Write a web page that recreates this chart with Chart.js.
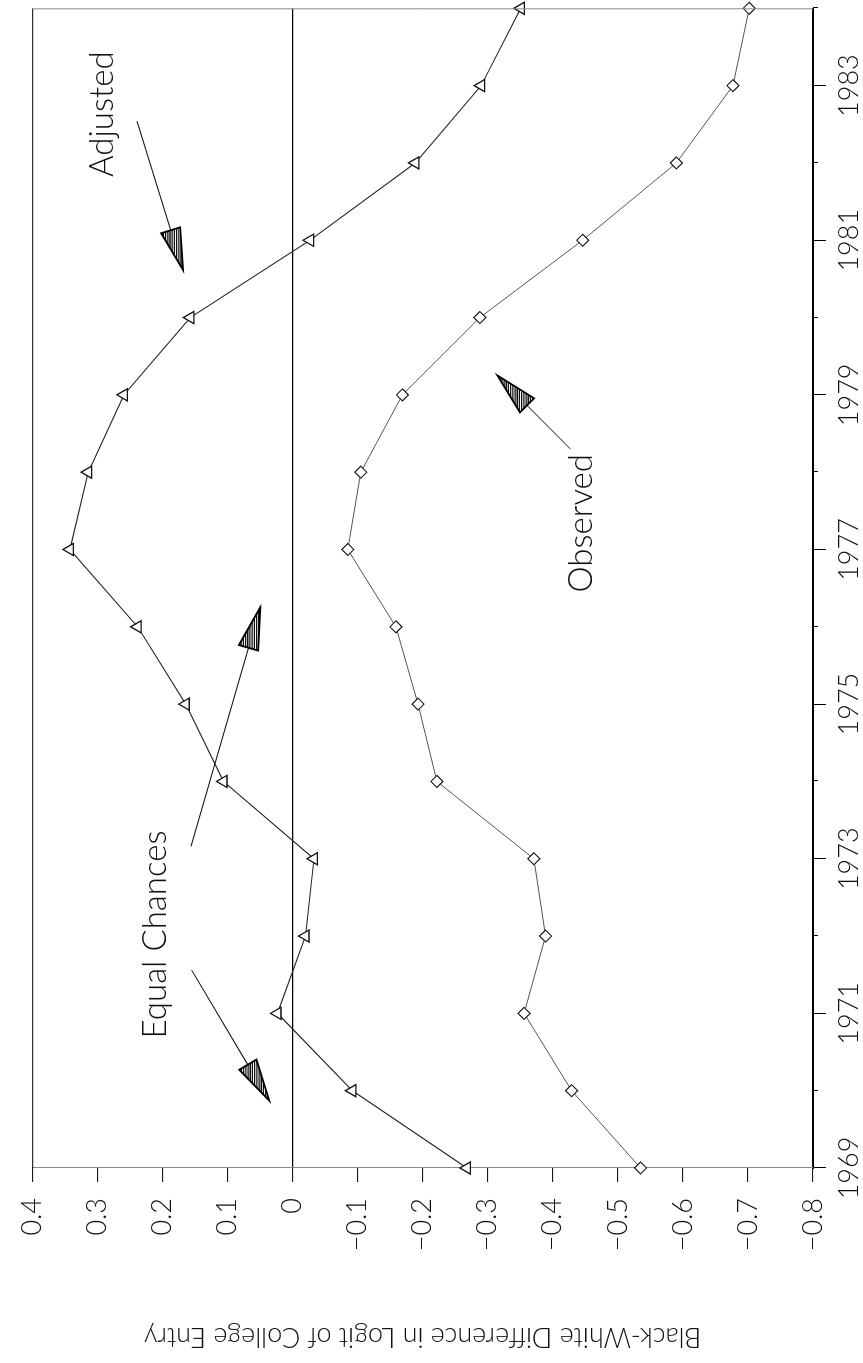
<!DOCTYPE html>
<html>
<head>
<meta charset="utf-8">
<script src="https://cdn.jsdelivr.net/npm/chart.js@4.4.1/dist/chart.umd.min.js"></script>
<style>
  html, body { margin: 0; padding: 0; background: #fff; width: 863px; height: 1363px; overflow: hidden; }
  /* The chart is laid out landscape and turned a quarter-turn counter-clockwise onto the page */
  #frame { position: absolute; left: 0; top: 0; width: 1363px; height: 863px;
           transform-origin: 0 0; transform: translate(0, 1363px) rotate(-90deg); }
  canvas { display: block; }
</style>
</head>
<body>
<div id="frame"><canvas id="chart" width="1363" height="863"></canvas></div>
<script>
// Survey years
const years = [1969, 1970, 1971, 1972, 1973, 1974, 1975, 1976,
               1977, 1978, 1979, 1980, 1981, 1982, 1983, 1984];

// Black-white difference, adjusted for background ("Adjusted")
const adjusted = [-0.268, -0.092, 0.023, -0.020, -0.033, 0.106, 0.164, 0.238,
                  0.342, 0.314, 0.259, 0.157, -0.027, -0.189, -0.290, -0.351];

// Raw black-white difference ("Observed")
const observed = [-0.535, -0.429, -0.356, -0.389, -0.371, -0.222, -0.193, -0.159,
                  -0.085, -0.105, -0.169, -0.288, -0.446, -0.590, -0.677, -0.702];

// Axis ticks
const labeledYears = [1969, 1971, 1973, 1975, 1977, 1979, 1981, 1983];
const valueTicks = [0.4, 0.3, 0.2, 0.1, 0, -0.1, -0.2, -0.3, -0.4, -0.5, -0.6, -0.7, -0.8];
const valueTickLabels = ['0.4', '0.3', '0.2', '0.1', '0', '\u22120.1', '\u22120.2', '\u22120.3',
                         '\u22120.4', '\u22120.5', '\u22120.6', '\u22120.7', '\u22120.8'];

// Series labels and their pointer arrows, in data units [year, value]
const noteTexts = ['Adjusted', 'Observed', 'Equal Chances'];
const notePositions = [[1982.63, 0.292], [1977.34, -0.444], [1972.02, 0.211]];
const arrowTails = [[1982.54, 0.239], [1978.30, -0.427], [1973.16, 0.156], [1971.56, 0.155]];
const arrowTips  = [[1980.61, 0.168], [1979.25, -0.315], [1976.25, 0.0495], [1969.87, 0.0356]];

const FONT = "Lato, 'Liberation Sans', Arial, sans-serif";
const TEXT_WEIGHT = '300';

// Short ticks for the unlabeled years, plus the closing frame lines
const frameAndMinorTicks = {
  id: 'frameAndMinorTicks',
  afterDraw(chart) {
    const { ctx, chartArea: a, scales: { x } } = chart;
    ctx.save();
    ctx.strokeStyle = '#000';
    ctx.lineWidth = 1;
    years.filter(y => !labeledYears.includes(y)).forEach(y => {
      const px = Math.round(x.getPixelForValue(y)) + 0.5;
      ctx.beginPath();
      ctx.moveTo(px, a.bottom);
      ctx.lineTo(px, a.bottom + 5);
      ctx.stroke();
    });
    // top edge (0.4)
    ctx.beginPath();
    ctx.moveTo(a.left, a.top + 0.5);
    ctx.lineTo(a.right, a.top + 0.5);
    ctx.stroke();
    // right edge (1984)
    ctx.strokeStyle = '#8a8a8a';
    ctx.beginPath();
    ctx.moveTo(a.right - 0.5, a.top);
    ctx.lineTo(a.right - 0.5, a.bottom);
    ctx.stroke();
    ctx.restore();
  }
};

// Text labels with hatched arrowheads pointing at each series
const seriesNotes = {
  id: 'seriesNotes',
  afterDraw(chart) {
    const { ctx, scales: { x, y } } = chart;
    const toPx = p => [x.getPixelForValue(p[0]), y.getPixelForValue(p[1])];
    ctx.save();
    ctx.fillStyle = '#111';
    ctx.font = TEXT_WEIGHT + ' 33px ' + FONT;
    ctx.textAlign = 'center';
    ctx.textBaseline = 'middle';
    noteTexts.forEach((t, i) => {
      const [px, py] = toPx(notePositions[i]);
      ctx.fillText(t, px, py);
    });

    arrowTails.forEach((tail, i) => {
      const [x0, y0] = toPx(tail);
      const [x1, y1] = toPx(arrowTips[i]);
      const dx = x1 - x0, dy = y1 - y0;
      const len = Math.hypot(dx, dy);
      const ux = dx / len, uy = dy / len;
      const headLen = 42, half = 10;
      const bx = x1 - ux * headLen, by = y1 - uy * headLen;
      const lx = bx - uy * half, ly = by + ux * half;
      const rx = bx + uy * half, ry = by - ux * half;
      const shaftColor = i === 1 ? '#666' : '#111';

      ctx.strokeStyle = shaftColor;
      ctx.lineWidth = 1.1;
      ctx.beginPath();
      ctx.moveTo(x0, y0);
      ctx.lineTo(bx, by);
      ctx.stroke();

      // head: outline filled with close hatching
      ctx.beginPath();
      ctx.moveTo(x1, y1);
      ctx.lineTo(lx, ly);
      ctx.lineTo(rx, ry);
      ctx.closePath();
      ctx.fillStyle = '#fff';
      ctx.fill();
      ctx.save();
      ctx.clip();
      ctx.strokeStyle = '#111';
      ctx.lineWidth = 1.3;
      const minX = Math.min(x1, lx, rx), maxX = Math.max(x1, lx, rx);
      const minY = Math.min(y1, ly, ry), maxY = Math.max(y1, ly, ry);
      for (let hy = minY; hy <= maxY; hy += 2.2) {
        ctx.beginPath();
        ctx.moveTo(minX, hy);
        ctx.lineTo(maxX, hy);
        ctx.stroke();
      }
      ctx.restore();
      ctx.strokeStyle = '#000';
      ctx.lineWidth = 1.8;
      ctx.beginPath();
      ctx.moveTo(x1, y1);
      ctx.lineTo(lx, ly);
      ctx.lineTo(rx, ry);
      ctx.closePath();
      ctx.stroke();
    });
    ctx.restore();
  }
};

new Chart(document.getElementById('chart'), {
  type: 'line',
  data: {
    datasets: [
      {
        label: 'Adjusted',
        data: years.map((yr, i) => ({ x: yr, y: adjusted[i] })),
        borderColor: '#222',
        borderWidth: 1.1,
        pointStyle: 'triangle',
        pointRadius: 7,
        pointBorderColor: '#111',
        pointBackgroundColor: '#fff',
        pointBorderWidth: 1.3,
        tension: 0,
        clip: false
      },
      {
        label: 'Observed',
        data: years.map((yr, i) => ({ x: yr, y: observed[i] })),
        borderColor: '#555',
        borderWidth: 1,
        pointStyle: 'rectRot',
        pointRadius: 6,
        pointBorderColor: '#111',
        pointBackgroundColor: '#fff',
        pointBorderWidth: 1.1,
        tension: 0,
        clip: false
      }
    ]
  },
  options: {
    responsive: false,
    animation: false,
    devicePixelRatio: 1,
    layout: { padding: { top: 21, right: 7, left: 0, bottom: 0 } },
    plugins: { legend: { display: false }, tooltip: { enabled: false } },
    scales: {
      x: {
        type: 'linear',
        position: 'bottom',
        min: 1969,
        max: 1984,
        afterBuildTicks: s => { s.ticks = labeledYears.map(v => ({ value: v })); },
        afterFit: s => { s.height = 50; },
        ticks: {
          callback: v => String(v),
          autoSkip: false,
          maxRotation: 0,
          padding: 7,
          color: '#111',
          font: { family: FONT, size: 27, weight: TEXT_WEIGHT }
        },
        grid: { drawOnChartArea: false, drawTicks: true, tickLength: 13, tickColor: '#000', tickWidth: 1 },
        border: { display: true, color: '#000', width: 2 }
      },
      y: {
        type: 'linear',
        position: 'left',
        min: -0.8,
        max: 0.4,
        afterBuildTicks: s => { s.ticks = valueTicks.map(v => ({ value: v })); },
        afterFit: s => { s.width = 195; },
        ticks: {
          callback: (v, i) => valueTickLabels[i],
          padding: 16,
          color: '#111',
          font: { family: FONT, size: 27, weight: TEXT_WEIGHT }
        },
        grid: {
          drawOnChartArea: true,
          color: c => (c.tick && Math.abs(c.tick.value) < 1e-9) ? '#000' : 'rgba(0,0,0,0)',
          lineWidth: 1.2,
          tickLength: 14,
          tickColor: '#000',
          tickWidth: 1
        },
        border: { display: true, color: '#8a8a8a', width: 1 },
        title: {
          display: true,
          text: 'Black-White Difference in Logit of College Entry',
          color: '#111',
          font: { family: FONT, size: 27, weight: TEXT_WEIGHT },
          padding: { top: 10, bottom: 0 }
        }
      }
    }
  },
  plugins: [frameAndMinorTicks, seriesNotes]
});
</script>
</body>
</html>
